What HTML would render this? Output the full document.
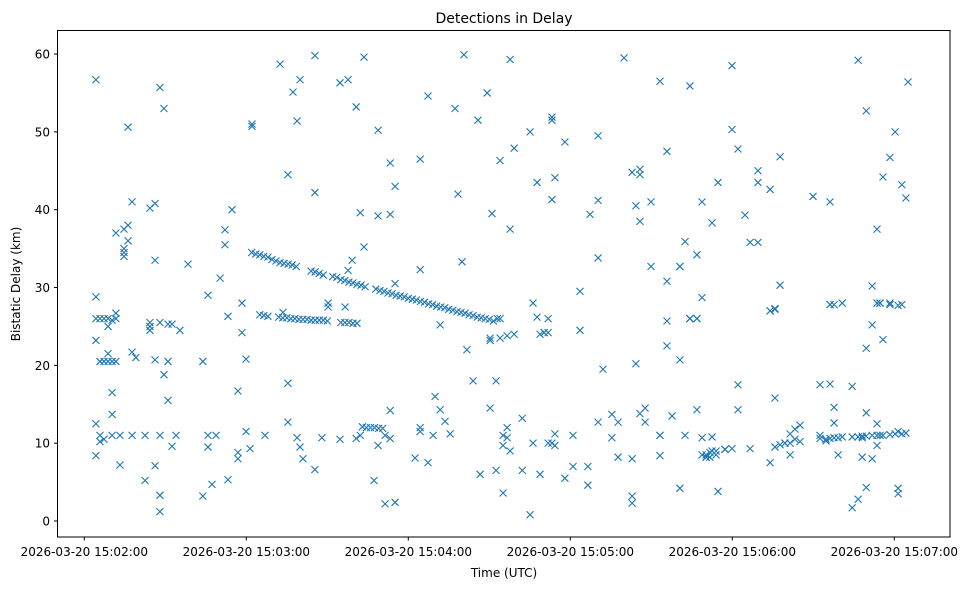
<!DOCTYPE html>
<html><head><meta charset="utf-8">
<style>
html,body{margin:0;padding:0;background:#fff;}
svg{display:block;font-family:"DejaVu Sans","Liberation Sans",sans-serif;}
</style></head>
<body>
<svg id="chart" width="980" height="590" viewBox="0 0 980 590" xmlns="http://www.w3.org/2000/svg">
<rect width="980" height="590" fill="#fff"/>
<text x="504" y="23" text-anchor="middle" font-size="14">Detections in Delay</text>
<g id="marks"></g>
<g id="axes"></g>
<rect x="57.5" y="30.5" width="892.5" height="506.5" fill="none" stroke="#000" stroke-width="1"/>
<text x="504" y="577" text-anchor="middle" font-size="12">Time (UTC)</text>
<text transform="translate(20,284) rotate(-90)" text-anchor="middle" font-size="12">Bistatic Delay (km)</text>
</svg>
<script>
// seconds after 15:02:00 for each group, and the delays (km) detected at that time
const groupTimes = [4.3,5.8,7.3,8.8,10.3,11.7,13.2,14.7,16.2,17.7,19.1,22.5,24.3,26.2,28.0,29.5,31.0,32.5,34.0,35.4,38.4,43.9,45.8,47.3,48.8,50.3,52.1,53.2,54.7,56.9,58.4,59.9,61.4,62.1,66.9,72.5,73.6,75.4,77.3,78.8,79.9,81.0,85.4,88.0,90.3,94.7,96.6,97.7,99.2,100.7,102.2,103.6,107.3,108.8,111.4,113.3,115.1,122.5,124.4,127.3,129.2,129.9,131.8,133.6,135.5,137.3,138.4,139.9,140.6,141.7,144.0,145.8,146.6,149.2,150.3,151.0,152.5,154.0,155.1,156.6,157.7,159.2,162.2,165.1,166.2,167.7,168.8,170.3,171.8,173.2,174.3,178.0,181.0,183.6,186.5,187.3,190.3,192.1,195.4,197.7,199.9,202.9,204.3,205.8,207.7,209.9,213.2,215.8,217.7,220.6,222.5,224.3,226.9,228.8,230.3,231.7,232.5,234.0,234.7,237.3,239.9,242.1,244.7,246.6,249.5,254.0,255.8,257.7,259.5,261.4,263.2,265.1,269.9,272.5,274.7,276.2,277.7,279.2,280.7,284.4,286.6,288.1,289.6,291.8,293.6,294.7,295.8,298.4,300.3,301.4,302.8,304.3,305.1];
const groupDelays = [
[56.7,28.8,26,23.2,12.5,8.4],[26,20.5,11,10.2],[26,20.5,10.5],[26,20.5,25,21.5],[25.8,20.5,16.5,13.7,11],
[37,26.7,26,20.5],[7.2,11],[34,34.5,37.5,35],[36,38,50.6],[41,21.7,11],[21],
[5.2,11],[25.5,25,24.5,40.2],[40.8,7.1,20.7,33.5],[1.2,3.3,11,55.7,25.5],[53,18.8],[15.5,20.5,25.3],[25.3,9.6],[11],[24.5],[33],
[20.5,3.2],[11,9.5,29],[4.7],[11],[31.2],[37.4,35.5],[26.3,5.3],[40],[16.7,8.8,8],[24.2,28],[20.8,11.5],[9.3],[51,50.7],[11],
[58.7],[26.8],[44.5,17.7,12.7],[55.1],[51.4,10.7],[56.7,9.5],[8],[6.6,59.8,42.2],[10.7],[28,27.5],[56.3,10.5],[27.5],[56.7,32.2],[33.5],[53.2,10.6],[39.6,11],[59.6,35.2],
[5.2],[50.2,39.2,9.7],[2.2,11],[46,39.4,14.2,10.6],[2.4,43,30.5],[8.1],[32.3,46.5,12,11.5],[54.6,7.5],[11],[16],[25.2,14.3],[12.8],[11.2],[53],[42],[33.3],[59.9],[22],[18],[51.5],[6],[55],
[14.5,23.5,23.2],[39.5],[18,6.5],[46.3,23.5],[9.7,11,3.6],[12,10.7,23.8],[59.3,37.5,9],[47.9,24],[6.5,13.2],[0.8,50],[28,10],[43.5,26.2],[24,6],[24.2,24.2],[26,24.2,10],[51.5,51.9,41.3,10],[11.2,9.7,44.1],
[48.7,5.5],[11,7],[29.5,24.5],[4.6,7],[39.4],[33.8,49.5,41.2,12.7],[19.5],[13.7,10.7],[8.2,12.7],[59.5],[44.8,3.2,2.3,8],[40.5,20.2],[45.2,44.5,38.5,13.8],[14.5,12.7],[41,32.7],[56.5,11,11,8.4],[30.8,25.7,22.5,47.5],[13.5],[32.7,32.7,20.7,4.2],[35.9,11],[55.9,26,26,26],[26,26,34.2,14.3],[41,28.7,10.7,8.5],
[8.2,8.2,8.5],[8.2,8.8],[38.3,10.8,9],[8.5,9],[3.8,43.5],[9.2,9.2,9.2],[9.3,50.3,58.5],[47.8,14.3,17.5],[39.3],[35.8,9.3],[43.5,45,35.8],
[42.6,27,27,7.5],[27.2,27.3,15.8,9.5],[46.8,30.3,9.8],[10,10],[10,11.2,8.5],[11.8,10.5],[12.3,10.2],[41.7],[11,10.6,17.5],[10.3,10.5],[27.8,27.8,41,17.6,10.6],[27.8,14.6,12.6,10.7],[8.5,10.7],[28,10.8],[1.7,17.3,10.8],[59.2,2.8,10.8],[10.7,8.2,10.9],[22.2,13.9,52.7,4.3,10.9],[30.2,25.2,8,11],[37.5,28,9.7,12.5,11],[28,28,11],[44.2,23.3,11],[46.7,28,27.8,11.1],[50,11.2],[27.7,3.5,4.2,11.5],[43.2,27.8,11.2],[41.5,11.3],[56.4]
];
// descending track and parallel tracks (time s, delay km)
const trackTimes = [62,63.5,65,66.5,68,69.5,71,72.5,74,75.5,77,78.5,84,85.5,87,88.5,92,93.5,95,96.5,98,99.5,101,102.5,104,108,109.5,111,112.5,114,115.5,117,118.5,120,121.5,123,124.5,126,127.5,129,130.5,132,133.5,135,136.5,138,139.5,141,142.5,144,145.5,147,148.5,150,151.5,153,154];
const trackDelays = [34.5,34.3,34.2,34.0,33.9,33.6,33.4,33.2,33.1,33.0,32.9,32.7,32.1,32.0,31.8,31.6,31.4,31.3,31.0,30.9,30.7,30.6,30.4,30.3,30.1,29.8,29.6,29.5,29.3,29.2,29.0,28.9,28.8,28.6,28.5,28.4,28.2,28.1,27.9,27.8,27.6,27.5,27.4,27.2,27.1,26.9,26.8,26.7,26.5,26.4,26.2,26.1,26.0,25.9,25.7,26.0,26.0];
const band2Times = [65,66.5,68,72,73.5,75,76.5,78,79.5,81,82.5,84,85.5,87,88.5,90,95,96.5,98,99.5,101];
const band2Delays = [26.5,26.4,26.3,26.2,26.1,26.1,26.0,26.0,25.9,25.9,25.9,25.8,25.8,25.8,25.8,25.7,25.5,25.5,25.5,25.4,25.4];
const band3Times = [103,104.5,106,107.5,109,110.5];
const band3Delays = [12.1,12.0,12.0,12.0,11.9,11.9];
const xTickLabels = ["2026-03-20 15:02:00","2026-03-20 15:03:00","2026-03-20 15:04:00","2026-03-20 15:05:00","2026-03-20 15:06:00","2026-03-20 15:07:00"];
const xTickValues = [0,60,120,180,240,300];
const yTickValues = [0,10,20,30,40,50,60];

const NS="http://www.w3.org/2000/svg";
function xScale(t){return 84.3 + t*162/60;}
function yScale(v){return 521 - v*7.783;}
const marks=document.getElementById('marks');
const axes=document.getElementById('axes');
function mark(t,v){
  const x=xScale(t), y=yScale(v), s=3.5;
  const p=document.createElementNS(NS,'path');
  p.setAttribute('d',`M${x-s},${y-s}L${x+s},${y+s}M${x-s},${y+s}L${x+s},${y-s}`);
  p.setAttribute('stroke','#1f77b4');p.setAttribute('stroke-width','1.1');p.setAttribute('fill','none');
  
  
  marks.appendChild(p);
}
groupTimes.forEach((t,i)=>{(groupDelays[i]||[]).forEach(v=>mark(t,v));});
trackTimes.forEach((t,i)=>mark(t,trackDelays[i]));
band2Times.forEach((t,i)=>mark(t,band2Delays[i]));
band3Times.forEach((t,i)=>mark(t,band3Delays[i]));

xTickValues.forEach((t,i)=>{
  const x=xScale(t);
  const l=document.createElementNS(NS,'line');
  l.setAttribute('x1',x);l.setAttribute('x2',x);l.setAttribute('y1',537);l.setAttribute('y2',540.5);l.setAttribute('stroke','#000');
  
  
  axes.appendChild(l);
  const tx=document.createElementNS(NS,'text');
  tx.setAttribute('x',x);tx.setAttribute('y',556);tx.setAttribute('text-anchor','middle');tx.setAttribute('font-size','12');
  tx.textContent=xTickLabels[i];
  
  
  axes.appendChild(tx);
});
yTickValues.forEach(v=>{
  const y=yScale(v);
  const l=document.createElementNS(NS,'line');
  l.setAttribute('x1',54);l.setAttribute('x2',57.5);l.setAttribute('y1',y);l.setAttribute('y2',y);l.setAttribute('stroke','#000');
  
  
  axes.appendChild(l);
  const tx=document.createElementNS(NS,'text');
  tx.setAttribute('x',50);tx.setAttribute('y',y+4.5);tx.setAttribute('text-anchor','end');tx.setAttribute('font-size','12');
  tx.textContent=String(v);
  
  
  axes.appendChild(tx);
});
</script>
</body></html>
